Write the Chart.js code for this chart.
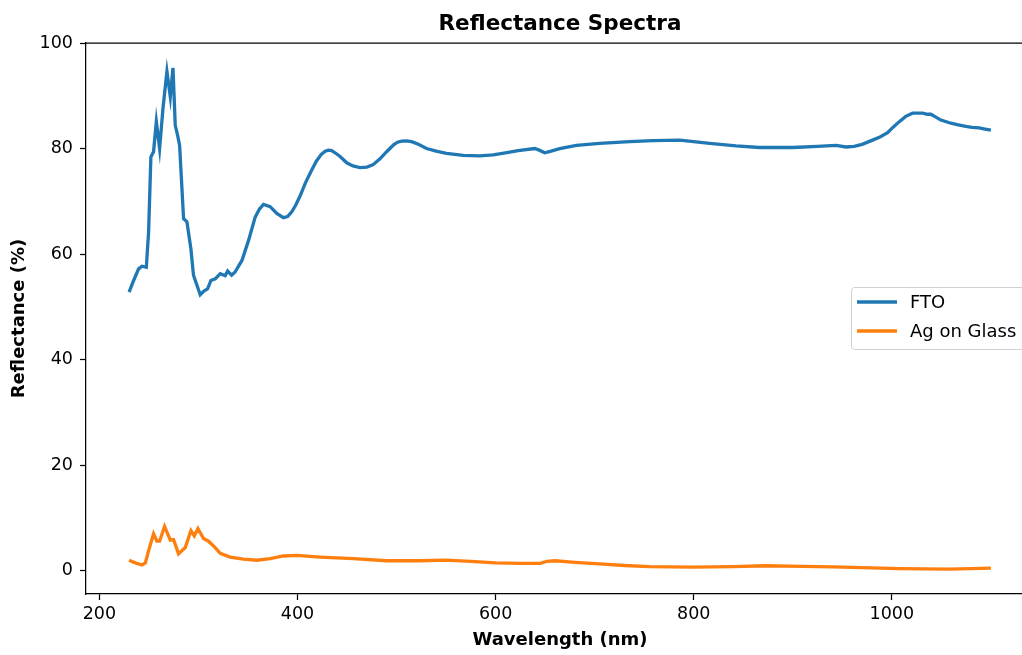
<!DOCTYPE html>
<html>
<head>
<meta charset="utf-8">
<title>Reflectance Spectra</title>
<script src="https://cdn.jsdelivr.net/npm/chart.js@4.4.1/dist/chart.umd.min.js"></script>
<style>
    html, body { margin: 0; padding: 0; background: #fff; overflow: hidden; }
    #wrap { width: 1022px; height: 655px; overflow: hidden; }
    canvas { display: block; }
</style>
</head>
<body>
<div id="wrap"><canvas id="specChart" width="1040" height="655"></canvas></div>
<script>
// FTO spectrum (wavelength nm / reflectance %)
const ftoWl = [230, 234.6, 239.6, 243, 247.4, 249.7, 252, 254.7, 257.5, 260.8, 264.2, 268.2, 271.6, 274.3, 276.6, 279, 281,
    285, 288.4, 292.4, 295, 298.5, 301.8, 305.5, 309.2, 312.6, 317, 322, 327, 329.5, 333.5, 337, 343.9, 350.6, 357.3,
    361.5, 365.7, 372.4, 379.1, 385.8, 390, 394.2, 398, 402.6, 408, 414, 419, 424, 428, 431.2, 434.5, 437.9, 443, 449.7,
    456, 463.1, 470, 476, 483, 490, 497, 501, 505.1, 510, 515.2, 522, 530.3, 540, 550.4, 567.3, 584, 597.5, 610, 622.7,
    639.5, 644, 649.6, 656, 664.7, 681.6, 705, 735.3, 758.8, 785.7, 800, 816, 842.8, 866.3, 900, 925, 943.6, 953.7, 962,
    970, 980.5, 988, 995.7, 1001, 1007.5, 1014, 1020.9, 1031, 1036, 1039.4, 1044, 1049.5, 1059.6, 1067, 1074.7, 1081,
    1088.1, 1094, 1100];
const ftoR = [52.8, 55.0, 57.2, 57.7, 57.5, 64.2, 78.4, 79.4, 85.1, 80.0, 87.6, 94.6, 89.8, 95.3, 84.4, 82.5, 80.6,
    66.7, 66.1, 61.0, 56.0, 54.1, 52.3, 53.0, 53.4, 55.0, 55.3, 56.3, 55.9, 56.8, 56.0, 56.6, 58.8, 62.6, 67.0,
    68.5, 69.4, 69.0, 67.7, 66.9, 67.1, 68.0, 69.2, 71.0, 73.5, 75.8, 77.6, 78.9, 79.5, 79.7, 79.6, 79.2, 78.5, 77.3,
    76.7, 76.4, 76.5, 76.9, 78.0, 79.4, 80.7, 81.2, 81.4, 81.45, 81.3, 80.8, 80.0, 79.5, 79.1, 78.7, 78.6, 78.8, 79.2, 79.6,
    80.0, 79.7, 79.2, 79.5, 80.0, 80.6, 81.0, 81.3, 81.5, 81.6, 81.3, 81.0, 80.5, 80.2, 80.2, 80.4, 80.6, 80.3, 80.4,
    80.8, 81.6, 82.2, 83.0, 84.0, 85.1, 86.1, 86.7, 86.7, 86.5, 86.5, 86.0, 85.4, 84.8, 84.5, 84.2, 84.0,
    83.9, 83.7, 83.5];

// Ag on glass spectrum
const agWl = [230, 236.3, 243, 246.4, 249.7, 254.7, 258.1, 260.8, 265.8, 271.6, 274.9, 279.9, 286.7, 292.4, 295.8, 299.5,
    305.1, 310.2, 316.9, 322, 332, 345.4, 359, 372.4, 385.8, 399.3, 422.8, 456.4, 490, 523.6, 550, 575, 600, 625, 645,
    652, 660, 680, 705, 730, 755.4, 799, 840, 873, 910, 940, 970, 1007.5, 1058, 1080, 1100];
const agR = [2.0, 1.5, 1.1, 1.5, 3.8, 7.0, 5.6, 5.6, 8.4, 5.8, 5.9, 3.2, 4.4, 7.6, 6.6, 8.0,
    6.1, 5.6, 4.4, 3.3, 2.6, 2.2, 2.0, 2.3, 2.8, 2.9, 2.6, 2.3, 1.9, 1.9, 2.0, 1.8, 1.5, 1.4, 1.4,
    1.8, 1.9, 1.6, 1.3, 1.0, 0.8, 0.7, 0.8, 0.95, 0.85, 0.75, 0.6, 0.4, 0.3, 0.4, 0.5];

const seriesNames = ['FTO', 'Ag on Glass'];
const seriesColors = ['#1f77b4', '#ff7f0e'];
const xTicks = [200, 400, 600, 800, 1000];
const yTicks = [0, 20, 40, 60, 80, 100];
const chartTitle = 'Reflectance Spectra';

const FONT = "'DejaVu Sans', sans-serif";

function toPoints(xs, ys) {
    return xs.map((x, i) => ({ x: x, y: ys[i] }));
}

// title over the axes, top spine, legend box (center right, matplotlib style)
const extrasPlugin = {
    id: 'extras',
    afterDraw(chart) {
        const { ctx, chartArea } = chart;
        ctx.save();
        ctx.fillStyle = '#000';
        ctx.font = 'bold 21.5px ' + FONT;
        ctx.textAlign = 'center';
        ctx.textBaseline = 'middle';
        ctx.fillText(chartTitle, (chartArea.left + chartArea.right) / 2, 24);

        ctx.strokeStyle = '#000';
        ctx.lineWidth = 1.25;
        ctx.beginPath();
        ctx.moveTo(chartArea.left, chartArea.top);
        ctx.lineTo(chartArea.right, chartArea.top);
        ctx.stroke();

        const boxL = 851, boxT = 287, boxW = 180, boxH = 62;
        ctx.fillStyle = 'rgba(255,255,255,0.8)';
        ctx.strokeStyle = '#d0d0d0';
        ctx.lineWidth = 1;
        ctx.beginPath();
        ctx.roundRect(boxL + 0.5, boxT + 0.5, boxW, boxH, 3);
        ctx.fill();
        ctx.stroke();

        ctx.font = '18px ' + FONT;
        ctx.textAlign = 'left';
        chart.data.datasets.forEach((ds, i) => {
            const y = boxT + 15 + i * 29;
            ctx.strokeStyle = ds.borderColor;
            ctx.lineWidth = 3.3;
            ctx.beginPath();
            ctx.moveTo(857, y);
            ctx.lineTo(897, y);
            ctx.stroke();
            ctx.fillStyle = '#000';
            ctx.fillText(ds.label, 910, y + 1);
        });
        ctx.restore();
    }
};

const ctx = document.getElementById('specChart').getContext('2d');
new Chart(ctx, {
    type: 'line',
    data: {
        datasets: [
            { label: seriesNames[0], data: toPoints(ftoWl, ftoR), borderColor: seriesColors[0], borderWidth: 3.3, pointRadius: 0, tension: 0, fill: false },
            { label: seriesNames[1], data: toPoints(agWl, agR), borderColor: seriesColors[1], borderWidth: 3.3, pointRadius: 0, tension: 0, fill: false }
        ]
    },
    options: {
        responsive: false,
        animation: false,
        devicePixelRatio: 1,
        layout: { padding: { left: 0, right: 6, top: 43, bottom: 0 } },
        plugins: {
            legend: { display: false },
            tooltip: { enabled: false },
            title: { display: false }
        },
        scales: {
            x: {
                type: 'linear',
                min: 186.5,
                max: 1143.5,
                afterFit: s => { s.height = 61; },
                afterBuildTicks: s => { s.ticks = xTicks.map(v => ({ value: v })); },
                ticks: { color: '#000', font: { family: FONT, size: 17.5 }, padding: 4, callback: v => String(v) },
                grid: { drawOnChartArea: false, drawTicks: true, tickLength: 6, color: '#000', tickWidth: 1.25 },
                border: { display: true, color: '#000', width: 1.25 },
                title: { display: true, text: 'Wavelength (nm)', color: '#000', font: { family: FONT, size: 18, weight: 'bold' }, padding: { bottom: 4 } }
            },
            y: {
                min: -4.4,
                max: 100,
                afterFit: s => { s.width = 86; },
                afterBuildTicks: s => { s.ticks = yTicks.map(v => ({ value: v })); },
                ticks: { color: '#000', font: { family: FONT, size: 17.5 }, padding: 7, callback: v => String(v) },
                grid: { drawOnChartArea: false, drawTicks: true, tickLength: 6, color: '#000', tickWidth: 1.25 },
                border: { display: true, color: '#000', width: 1.25 },
                title: { display: true, text: 'Reflectance (%)', color: '#000', font: { family: FONT, size: 18, weight: 'bold' }, padding: { top: 9 } }
            }
        }
    },
    plugins: [extrasPlugin]
});
</script>
</body>
</html>
